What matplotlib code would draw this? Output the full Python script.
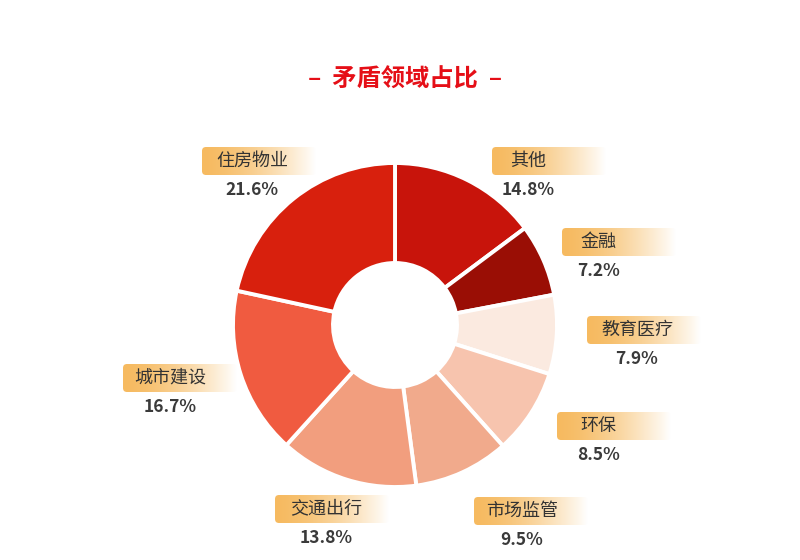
import matplotlib.pyplot as plt
import numpy as np
from matplotlib.patches import FancyBboxPatch

plt.rcParams['font.family'] = ['Noto Sans CJK SC', 'DejaVu Sans']

# data, clockwise from 12 o'clock
labels = ['其他', '金融', '教育医疗', '环保', '市场监管', '交通出行', '城市建设', '住房物业']
shares = [14.8, 7.2, 7.9, 8.5, 9.5, 13.8, 16.7, 21.6]
colors = ['#C8140B', '#9A0E05', '#FBEAE0', '#F7C4AE', '#F1AA8C',
          '#F29E7E', '#F05B40', '#D8200D']

# label box layout in pixels (left, top) and text centre x
box_left = [492, 562, 587, 557, 474, 275, 123, 202]
box_top = [147, 228, 316, 412, 497, 495, 364, 147]
text_x = [528, 598, 637, 598, 522, 326, 170, 252]

W, H = 800, 560
cx, cy = 395, 325
r_out, r_in = 162, 62

fig = plt.figure(figsize=(8, 5.6), dpi=100)
ax = fig.add_axes([0, 0, 1, 1])

ax.pie(shares, colors=colors, startangle=90, counterclock=False,
       center=(cx, H - cy), radius=r_out,
       wedgeprops=dict(width=r_out - r_in, edgecolor='white', linewidth=2.8))

ax.set_xlim(0, W)
ax.set_ylim(0, H)
ax.set_aspect('equal')
ax.axis('off')

ax.text(405, H - 80, '–  矛盾领域占比  –', ha='center', va='center',
        fontsize=17.5, fontweight='bold', color='#E50F17')

# gradient orange -> white
t = np.linspace(0, 1, 256) ** 1.5
c0 = np.array([246, 186, 96]) / 255
c1 = np.array([1.0, 1.0, 1.0])
grad = (c0[None, :] * (1 - t[:, None]) + c1[None, :] * t[:, None])[None, :, :]

bw, bh = 114, 28
for lab, v, x0, y0, tx in zip(labels, shares, box_left, box_top, text_x):
    yb = H - y0 - bh
    im = ax.imshow(grad, extent=[x0, x0 + bw, yb, yb + bh], aspect='auto',
                   zorder=2, interpolation='bilinear')
    clip = FancyBboxPatch((x0, yb), bw, bh, boxstyle='round,pad=0,rounding_size=4',
                          transform=ax.transData, facecolor='none', edgecolor='none')
    ax.add_patch(clip)
    im.set_clip_path(clip)
    ax.text(tx, yb + bh / 2, lab, ha='center', va='center', fontsize=13,
            color='#333333', zorder=3)
    ax.text(tx, yb - 15, f'{v:.1f}%', ha='center', va='center', fontsize=12.5,
            color='#3a3a3a', fontweight='bold', zorder=3)

ax.set_xlim(0, W)
ax.set_ylim(0, H)

fig.savefig('out.png', dpi=100, facecolor='white')
